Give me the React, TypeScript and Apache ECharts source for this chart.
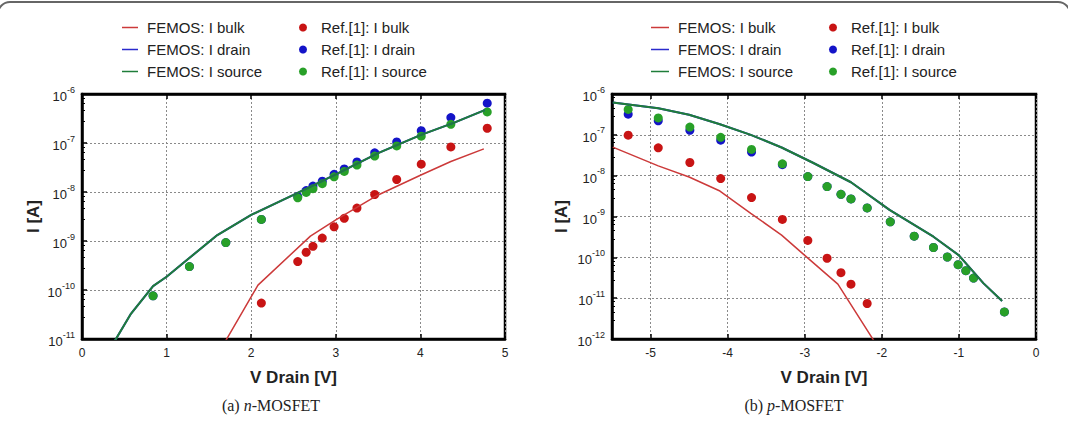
import React, { useEffect, useRef } from "react";
import * as echarts from "echarts";

// ---------- (a) n-MOSFET ----------
const nLineV = [0.36, 0.58, 0.84, 1.0, 1.2, 1.6, 2.0, 2.5, 3.0, 3.5, 4.0, 4.4, 4.76];
const nSourceLineI = [7.6e-12, 3.3e-11, 1.2e-10, 1.86e-10, 3.6e-10, 1.32e-9, 3.4e-9, 8.7e-9, 2.3e-8, 6.2e-8, 1.45e-7, 2.6e-7, 4.7e-7];
const nDrainLineI = [7.6e-12, 3.3e-11, 1.2e-10, 1.86e-10, 3.6e-10, 1.32e-9, 3.4e-9, 8.7e-9, 2.3e-8, 6.2e-8, 1.45e-7, 2.6e-7, 4.7e-7];
const nBulkLineV = [1.68, 2.08, 2.7, 3.0, 3.5, 4.0, 4.36, 4.75];
const nBulkLineI = [8.1e-12, 1.26e-10, 1.26e-9, 2.7e-9, 8.7e-9, 2.2e-8, 4.2e-8, 7.6e-8];

const nRefV = [0.84, 1.27, 1.7, 2.12, 2.55, 2.65, 2.73, 2.84, 2.98, 3.1, 3.25, 3.46, 3.72, 4.01, 4.36, 4.79];
const nRefSourceI = [7.6e-11, 3.0e-10, 9.3e-10, 2.75e-9, 7.6e-9, 9.8e-9, 1.17e-8, 1.48e-8, 2.04e-8, 2.63e-8, 3.55e-8, 5.4e-8, 8.7e-8, 1.38e-7, 2.4e-7, 4.3e-7];
const nRefDrainI = [7.6e-11, 3.0e-10, 9.3e-10, 2.75e-9, 8.1e-9, 1.07e-8, 1.32e-8, 1.66e-8, 2.3e-8, 2.95e-8, 4.1e-8, 6.3e-8, 1.05e-7, 1.78e-7, 3.3e-7, 6.5e-7];
const nRefBulkV = [2.12, 2.55, 2.65, 2.73, 2.84, 2.98, 3.1, 3.25, 3.46, 3.72, 4.01, 4.36, 4.79];
const nRefBulkI = [5.4e-11, 3.8e-10, 5.9e-10, 7.8e-10, 1.15e-9, 1.95e-9, 2.9e-9, 4.7e-9, 8.9e-9, 1.8e-8, 3.7e-8, 8.3e-8, 2.0e-7];

// ---------- (b) p-MOSFET ----------
const pLineV = [-5.49, -4.9, -4.5, -4.1, -3.7, -3.3, -2.9, -2.4, -1.9, -1.33, -1.0, -0.68, -0.44];
const pSourceLineI = [6.2e-7, 4.5e-7, 3.1e-7, 1.82e-7, 1.0e-7, 4.9e-8, 2.1e-8, 6.9e-9, 1.45e-9, 3.2e-10, 1.12e-10, 2.3e-11, 8.5e-12];
const pDrainLineI = [6.2e-7, 4.5e-7, 3.1e-7, 1.82e-7, 1.0e-7, 4.9e-8, 2.1e-8, 6.9e-9, 1.45e-9, 3.2e-10, 1.12e-10, 2.3e-11, 8.5e-12];
const pBulkLineV = [-5.49, -4.9, -4.5, -4.1, -3.7, -3.3, -3.0, -2.57, -2.1];
const pBulkLineI = [5.0e-8, 1.74e-8, 9.3e-9, 4.2e-9, 1.2e-9, 3.5e-10, 1.12e-10, 2.2e-11, 8.9e-13];

const pRefV = [-5.29, -4.9, -4.49, -4.09, -3.69, -3.29, -2.96, -2.71, -2.53, -2.4, -2.19, -1.89, -1.58, -1.33, -1.15, -1.01, -0.91, -0.81, -0.41];
const pRefSourceI = [4.2e-7, 2.6e-7, 1.55e-7, 8.7e-8, 4.4e-8, 1.95e-8, 9.5e-9, 5.4e-9, 3.5e-9, 2.7e-9, 1.62e-9, 7.4e-10, 3.3e-10, 1.74e-10, 1.02e-10, 6.6e-11, 4.7e-11, 3.1e-11, 4.6e-12];
const pRefDrainI = [3.2e-7, 2.2e-7, 1.29e-7, 7.4e-8, 3.8e-8, 1.86e-8, 9.5e-9, 5.4e-9, 3.5e-9, 2.7e-9, 1.62e-9, 7.4e-10, 3.3e-10, 1.74e-10, 1.02e-10, 6.6e-11, 4.7e-11, 3.1e-11, 4.6e-12];
const pRefBulkV = [-5.29, -4.9, -4.49, -4.09, -3.69, -3.29, -2.96, -2.71, -2.53, -2.4, -2.19];
const pRefBulkI = [9.8e-8, 4.8e-8, 2.1e-8, 8.5e-9, 2.9e-9, 8.5e-10, 2.6e-10, 9.5e-11, 4.2e-11, 2.2e-11, 7.4e-12];

const lineNames = ["FEMOS: I bulk", "FEMOS: I drain", "FEMOS: I source"];
const refNames = ["Ref.[1]: I bulk", "Ref.[1]: I drain", "Ref.[1]: I source"];
const captions = ["(a) {i|n}-MOSFET", "(b) {i|p}-MOSFET"];
const xTitle = "V Drain [V]";
const yTitle = "I [A]";

const FONT = "'Liberation Sans', Arial, sans-serif";
const SERIF = "'Liberation Serif', 'Times New Roman', serif";
const RED_LINE = "#cc3a3a";
const BLUE_LINE = "#2a2acc";
const GREEN_LINE = "#1f7d3a";
const RED_DOT = "#c81414";
const BLUE_DOT = "#1414c8";
const GREEN_DOT = "#28a028";

const zip = (xs: number[], ys: number[]) => xs.map((x, i) => [x, ys[i]]);

function lineSeries(name: string, idx: number, xs: number[], ys: number[], color: string, width: number) {
  return {
    name,
    type: "line",
    xAxisIndex: idx * 2,
    yAxisIndex: idx,
    data: zip(xs, ys),
    symbol: "none",
    clip: true,
    z: 4,
    lineStyle: { color, width },
    itemStyle: { color },
  };
}
function dotSeries(name: string, idx: number, xs: number[], ys: number[], color: string, z: number) {
  return {
    name,
    type: "scatter",
    xAxisIndex: idx * 2,
    yAxisIndex: idx,
    data: zip(xs, ys),
    symbol: "circle",
    symbolSize: 9,
    clip: true,
    z,
    itemStyle: { color, opacity: 1 },
  };
}

function xAxes(gridIndex: number, min: number, max: number, interval?: number) {
  const base: any = {
    type: "value",
    gridIndex,
    min,
    max,
    splitNumber: 5,
  };
  if (interval) base.interval = interval;
  return [
    {
      ...base,
      position: "bottom",
      name: xTitle,
      nameLocation: "middle",
      nameGap: 30,
      nameTextStyle: { fontFamily: FONT, fontSize: 17, fontWeight: "bold", color: "#222" },
      axisLine: { show: true, onZero: false, lineStyle: { color: "#000", width: 2.5 } },
      axisTick: { show: true, inside: true, length: 5, lineStyle: { color: "#000", width: 1.5 } },
      axisLabel: {
        fontFamily: FONT,
        fontSize: 12,
        color: "#222",
        margin: 8,
        showMinLabel: interval ? true : false,
      },
      splitLine: { show: true, lineStyle: { color: "#8a8a8a", type: [2, 2], width: 1 } },
    },
    {
      ...base,
      position: "top",
      axisLine: { show: true, onZero: false, lineStyle: { color: "#000", width: 2.5 } },
      axisTick: { show: true, inside: true, length: 5, lineStyle: { color: "#000", width: 1.5 } },
      axisLabel: { show: false },
      splitLine: { show: false },
    },
  ];
}

function yAxis(gridIndex: number, min: number, max: number, splitNumber: number, nameGap: number) {
  return {
    type: "log",
    logBase: 10,
    gridIndex,
    min,
    max,
    splitNumber,
    name: yTitle,
    nameLocation: "middle",
    nameGap,
    nameRotate: 90,
    nameTextStyle: { fontFamily: FONT, fontSize: 17, fontWeight: "bold", color: "#222" },
    axisLine: { show: true, onZero: false, lineStyle: { color: "#000", width: 2.5 } },
    axisTick: { show: true, inside: true, length: 5, lineStyle: { color: "#000", width: 1.5 } },
    minorTick: { show: true, splitNumber: 5, length: 3, lineStyle: { color: "#000", width: 1 } },
    axisLabel: {
      margin: 7,
      formatter: (v: number) => {
        const e = Math.round(Math.log10(v));
        return `{b|10}{s|${e}}`;
      },
      rich: {
        b: { fontFamily: FONT, fontSize: 13, lineHeight: 18, verticalAlign: "bottom", color: "#222" },
        s: { fontFamily: FONT, fontSize: 9, lineHeight: 9, verticalAlign: "top", color: "#222" },
      },
    },
    splitLine: { show: true, lineStyle: { color: "#8a8a8a", type: [2, 2], width: 1 } },
  };
}

function legend(names: string[], left: number, itemWidth: number, itemHeight: number, pad: number, icon: string) {
  return {
    data: names.map((name) => ({ name, icon })),
    orient: "vertical",
    left,
    top: 20,
    padding: 0,
    itemWidth,
    itemHeight,
    itemGap: 7,
    selectedMode: false,
    textStyle: {
      fontFamily: FONT,
      fontSize: 15,
      lineHeight: 14,
      color: "#222",
      padding: [0, 0, 0, pad],
    },
  };
}

function caption(text: string, x: number) {
  return {
    type: "text",
    x,
    y: 405,
    style: {
      text,
      align: "center",
      verticalAlign: "middle",
      fontFamily: SERIF,
      fontSize: 16,
      fill: "#222",
      rich: { i: { fontStyle: "italic", fontFamily: SERIF, fontSize: 16, fill: "#222" } },
    },
  };
}

function buildOption() {
  return {
    animation: false,
    backgroundColor: "#fff",
    grid: [
      { left: 82, top: 94, width: 423, height: 245, show: true, borderColor: "#000", borderWidth: 2.5 },
      { left: 612, top: 94, width: 424, height: 245, show: true, borderColor: "#000", borderWidth: 2.5 },
    ],
    xAxis: [...xAxes(0, 0, 5, 1), ...xAxes(1, -5.5, 0)],
    yAxis: [yAxis(0, 1e-11, 1e-6, 5, 40), yAxis(1, 1e-12, 1e-6, 6, 42)],
    legend: [
      legend(lineNames, 122, 16, 1.5, 4, "rect"),
      legend(refNames, 299, 8, 8, 9, "circle"),
      legend(lineNames, 651, 18, 1.5, 4, "rect"),
      legend(refNames, 829, 8, 8, 9, "circle"),
    ],
    graphic: [
      {
        type: "rect",
        shape: { x: -2, y: 2, width: 1072, height: 520, r: 12 },
        style: { fill: "none", stroke: "#666", lineWidth: 2 },
        silent: true,
      },
      caption(captions[0], 271),
      caption(captions[1], 794),
    ],
    series: [
      // panel a
      dotSeries(refNames[0], 0, nRefBulkV, nRefBulkI, RED_DOT, 2),
      dotSeries(refNames[1], 0, nRefV, nRefDrainI, BLUE_DOT, 2),
      dotSeries(refNames[2], 0, nRefV, nRefSourceI, GREEN_DOT, 3),
      lineSeries(lineNames[0], 0, nBulkLineV, nBulkLineI, RED_LINE, 1.5),
      lineSeries(lineNames[1], 0, nLineV, nDrainLineI, BLUE_LINE, 2),
      lineSeries(lineNames[2], 0, nLineV, nSourceLineI, GREEN_LINE, 2),
      // panel b
      dotSeries(refNames[0], 1, pRefBulkV, pRefBulkI, RED_DOT, 2),
      dotSeries(refNames[1], 1, pRefV, pRefDrainI, BLUE_DOT, 2),
      dotSeries(refNames[2], 1, pRefV, pRefSourceI, GREEN_DOT, 3),
      lineSeries(lineNames[0], 1, pBulkLineV, pBulkLineI, RED_LINE, 1.5),
      lineSeries(lineNames[1], 1, pLineV, pDrainLineI, BLUE_LINE, 2),
      lineSeries(lineNames[2], 1, pLineV, pSourceLineI, GREEN_LINE, 2),
    ],
  };
}

export default function App() {
  const ref = useRef<HTMLDivElement>(null);
  useEffect(() => {
    document.body.style.margin = "0";
    const chart = echarts.init(ref.current as HTMLDivElement, null, { renderer: "svg" });
    chart.setOption(buildOption() as any);
    return () => chart.dispose();
  }, []);
  return <div ref={ref} style={{ width: 1068, height: 438 }} />;
}
